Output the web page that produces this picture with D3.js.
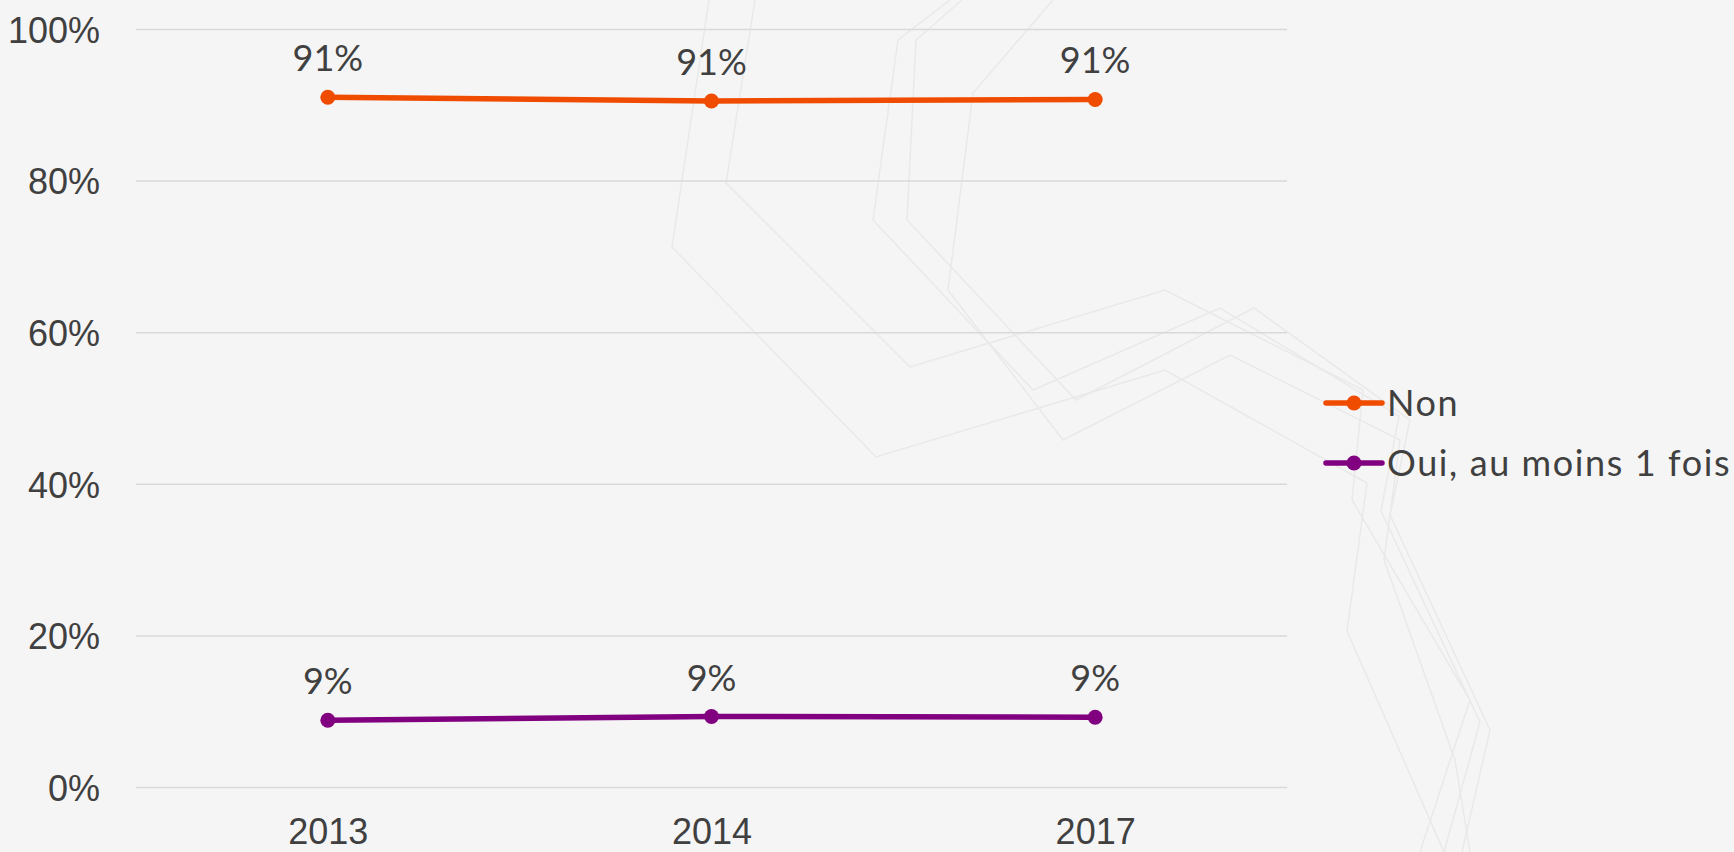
<!DOCTYPE html>
<html>
<head>
<meta charset="utf-8">
<script src="https://cdn.jsdelivr.net/npm/d3@7"></script>
<style>
    html, body { margin: 0; padding: 0; background: #f5f5f5; }
    svg { display: block; font-family: Lato, "Open Sans", sans-serif; }
</style>
</head>
<body>
<svg id="chart"></svg>
<script>
// data
let years = ["2013", "2014", "2017"];
let seriesNames = ["Non", "Oui, au moins 1 fois"];
let nonValues = [91.0, 90.5, 90.7];
let ouiValues = [8.8, 9.3, 9.2];
let yTicks = [0, 20, 40, 60, 80, 100];
let labelValues = ["91%", "91%", "91%"];
let ouiLabels = ["9%", "9%", "9%"];

// faint theme decoration behind the plot (slide background, not data)
let decorLines = [
    [[709, 0], [672, 247], [876, 457], [1165, 370], [1367, 483], [1347, 631], [1444, 852]],
    [[755, 0], [726, 183], [910, 367], [1165, 290], [1363, 390], [1352, 500], [1470, 700], [1420, 852]],
    [[950, 0], [898, 40], [873, 220], [1033, 390], [1220, 308], [1399, 416], [1381, 511], [1480, 722], [1444, 852]],
    [[962, 0], [916, 40], [907, 220], [1076, 400], [1254, 308], [1410, 420], [1390, 515], [1490, 730], [1462, 852]],
    [[1053, 0], [973, 93], [948, 290], [1063, 440], [1230, 355], [1400, 440], [1384, 560], [1455, 760], [1470, 852]]
];

let lineChart = function (options) {
    let self = {};

    for (let key in options) {
        self[key] = options[key];
    }

    self.colors = {
        'Non': "#f04c00",
        'Oui, au moins 1 fois': "#800080"
    };

    self.init = function () {
        self.svg = d3.select("#" + self.parent_id)
            .attr("width", self.width)
            .attr("height", self.height);

        self.svg.append("rect")
            .attr("width", self.width)
            .attr("height", self.height)
            .style("fill", "#f5f5f5");

        self.decor = self.svg.append("g");
        self.g = self.svg.append("g");
    };

    self.render = function () {
        let x = d3.scalePoint()
            .domain(years)
            .range([self.left, self.right])
            .padding(0.5);

        let y = d3.scaleLinear()
            .domain([0, 100])
            .range([self.bottom, self.top]);

        self.decor.selectAll("path")
            .data(decorLines)
            .enter()
            .append("path")
            .attr("d", d3.line())
            .style("fill", "none")
            .style("stroke", "#e9e9e9")
            .style("stroke-width", 1.5);

        // y axis with gridlines
        let yAxis = self.g.append("g")
            .attr("transform", "translate(" + self.left + ",0)")
            .call(d3.axisLeft(y)
                .tickValues(yTicks)
                .tickFormat(d => d + "%")
                .tickSize(-(self.right - self.left))
                .tickPadding(36));
        yAxis.select(".domain").remove();
        yAxis.selectAll("line")
            .style("stroke", "#d9d9d9")
            .style("stroke-width", 1.5);
        yAxis.selectAll("text")
            .attr("dy", "0.37em")
            .attr("font-size", "36px")
            .attr("fill", "#404040");

        let xAxis = self.g.append("g")
            .attr("transform", "translate(0," + self.bottom + ")")
            .call(d3.axisBottom(x).tickSize(0).tickPadding(31));
        xAxis.select(".domain").remove();
        xAxis.selectAll("text")
            .attr("font-size", "36px")
            .attr("fill", "#404040");

        let series = [
            { name: seriesNames[0], values: nonValues, labels: labelValues },
            { name: seriesNames[1], values: ouiValues, labels: ouiLabels }
        ];

        let line = d3.line()
            .x((d, i) => x(years[i]))
            .y(d => y(d));

        let sg = self.g.selectAll(".series")
            .data(series)
            .enter()
            .append("g")
            .attr("class", "series");

        sg.append("path")
            .attr("d", d => line(d.values))
            .style("fill", "none")
            .style("stroke", d => self.colors[d.name])
            .style("stroke-width", 5.5)
            .style("stroke-linejoin", "round");

        sg.selectAll("circle")
            .data(d => d.values.map(v => ({ v: v, name: d.name })))
            .enter()
            .append("circle")
            .attr("cx", (d, i) => x(years[i]))
            .attr("cy", d => y(d.v))
            .attr("r", 7.5)
            .style("fill", d => self.colors[d.name]);

        sg.selectAll("text")
            .data(d => d.values.map((v, i) => ({ v: v, label: d.labels[i] })))
            .enter()
            .append("text")
            .text(d => d.label)
            .attr("x", (d, i) => x(years[i]))
            .attr("y", d => y(d.v) - 26)
            .attr("font-size", "36px")
            .attr("fill", "#404040")
            .style("text-anchor", "middle");

        self.renderLegend();
    };

    self.renderLegend = function () {
        let lg = self.g.append("g")
            .attr("transform", "translate(1326,403)");

        let items = lg.selectAll("g")
            .data(seriesNames)
            .enter()
            .append("g")
            .attr("transform", (d, i) => "translate(0," + (i * 60) + ")");

        items.append("line")
            .attr("x1", 0)
            .attr("x2", 56)
            .style("stroke", d => self.colors[d])
            .style("stroke-width", 5.5)
            .style("stroke-linecap", "round");

        items.append("circle")
            .attr("cx", 28)
            .attr("r", 7.5)
            .style("fill", d => self.colors[d]);

        items.append("text")
            .text(d => d)
            .attr("x", 61)
            .attr("y", 13)
            .attr("font-size", "36px")
            .attr("letter-spacing", "1.6px")
            .attr("fill", "#404040");
    };

    self.init();
    return self;
};

let chart = lineChart({
    parent_id: "chart",
    width: 1734,
    height: 852,
    left: 136,
    right: 1287,
    top: 29,
    bottom: 787
});
chart.render();
</script>
</body>
</html>
